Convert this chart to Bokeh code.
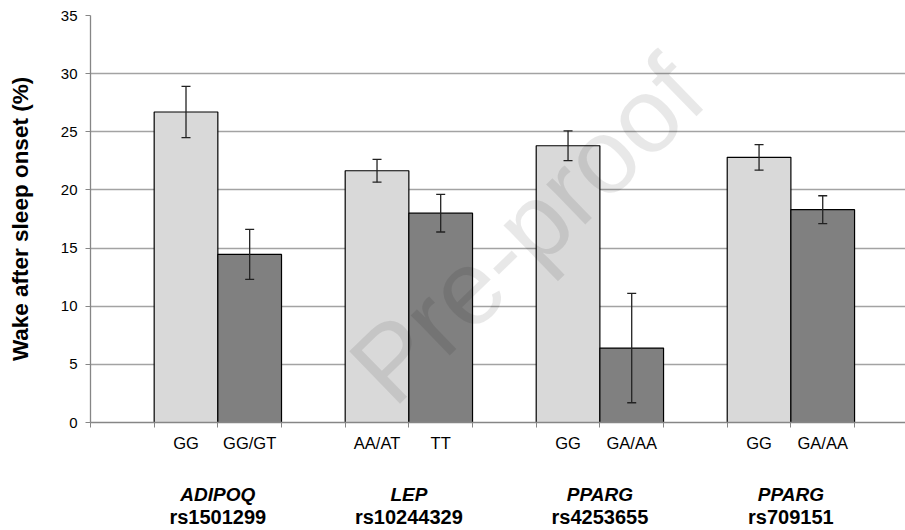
from bokeh.plotting import figure
from bokeh.models import (Range1d, FixedTicker, ColumnDataSource, Whisker, TeeHead,
                          LinearAxis, Label)
from bokeh.embed import file_html
from bokeh.resources import INLINE

# ---- data ----
genes = ["ADIPOQ", "LEP", "PPARG", "PPARG"]
snps = ["rs1501299", "rs10244329", "rs4253655", "rs709151"]
genotype_a = ["GG", "AA/AT", "GG", "GG"]
genotype_b = ["GG/GT", "TT", "GA/AA", "GA/AA"]
mean_a = [26.7, 21.65, 23.8, 22.8]
err_a = [2.2, 0.98, 1.28, 1.1]
mean_b = [14.45, 18.0, 6.4, 18.3]
err_b = [2.15, 1.62, 4.7, 1.2]
y_ticks = [0, 5, 10, 15, 20, 25, 30, 35]

# slot layout: one empty slot, then two bars, repeated
xa = [3 * i + 1.5 for i in range(len(genes))]
xb = [3 * i + 2.5 for i in range(len(genes))]
xg = [3 * i + 2.0 for i in range(len(genes))]

src_a = ColumnDataSource(dict(x=xa, top=mean_a, lo=[m - e for m, e in zip(mean_a, err_a)],
                              hi=[m + e for m, e in zip(mean_a, err_a)]))
src_b = ColumnDataSource(dict(x=xb, top=mean_b, lo=[m - e for m, e in zip(mean_b, err_b)],
                              hi=[m + e for m, e in zip(mean_b, err_b)]))

FONT = "Liberation Sans"

p = figure(width=905, height=530, output_backend="svg", toolbar_location=None,
           x_range=Range1d(0, 12.8), y_range=Range1d(0, 35),
           min_border_left=90, min_border_right=0, min_border_top=15, min_border_bottom=107)
p.outline_line_color = None

p.xgrid.grid_line_color = None
p.ygrid.grid_line_color = "#a3a3a3"
p.ygrid.grid_line_width = 1.4
p.ygrid.ticker = FixedTicker(ticks=y_ticks)

p.vbar(x="x", top="top", bottom=0, width=1.0, source=src_a,
       fill_color="#d9d9d9", line_color="#000000", line_width=1.2)
p.vbar(x="x", top="top", bottom=0, width=1.0, source=src_b,
       fill_color="#808080", line_color="#000000", line_width=1.2)

for s in (src_a, src_b):
    w = Whisker(base="x", upper="hi", lower="lo", source=s, line_color="#222222", line_width=1.3,
                level="overlay",
                upper_head=TeeHead(size=9, line_color="#222222", line_width=1.3),
                lower_head=TeeHead(size=9, line_color="#222222", line_width=1.3))
    p.add_layout(w)

# y axis
p.yaxis.ticker = FixedTicker(ticks=y_ticks)
p.yaxis.axis_line_color = "#868686"
p.yaxis.axis_line_width = 1.3
p.yaxis.major_tick_line_color = "#868686"
p.yaxis.major_tick_out = 5
p.yaxis.major_tick_in = 0
p.yaxis.minor_tick_line_color = None
p.yaxis.major_label_text_font = FONT
p.yaxis.major_label_text_font_size = "15px"
p.yaxis.major_label_text_color = "#000000"
p.yaxis.major_label_standoff = 8
p.yaxis.axis_label = "Wake after sleep onset (%)"
p.yaxis.axis_label_text_font = FONT
p.yaxis.axis_label_text_font_size = "22.5px"
p.yaxis.axis_label_text_font_style = "bold"
p.yaxis.axis_label_text_color = "#000000"
p.yaxis.axis_label_standoff = 25

# x axis: tick marks at slot boundaries only
p.xaxis.ticker = FixedTicker(ticks=list(range(14)))
p.xaxis.major_label_overrides = {i: "" for i in range(14)}
p.xaxis.major_label_text_font_size = "1px"
p.xaxis.major_label_standoff = 0
p.xaxis.axis_line_color = "#868686"
p.xaxis.axis_line_width = 1.3
p.xaxis.major_tick_line_color = "#868686"
p.xaxis.major_tick_out = 5
p.xaxis.major_tick_in = 0
p.xaxis.minor_tick_line_color = None


def label_axis(ticks, labels, size, style, standoff):
    ax = LinearAxis(ticker=FixedTicker(ticks=ticks),
                    major_label_overrides={t: l for t, l in zip(ticks, labels)})
    ax.axis_line_color = None
    ax.major_tick_line_color = None
    ax.minor_tick_line_color = None
    ax.major_tick_out = 0
    ax.major_tick_in = 0
    ax.major_label_standoff = standoff
    ax.major_label_text_font = FONT
    ax.major_label_text_font_size = size
    ax.major_label_text_font_style = style
    ax.major_label_text_color = "#000000"
    p.add_layout(ax, "below")
    return ax


label_axis(xa + xb, genotype_a + genotype_b, "16.5px", "normal", 6)
label_axis(xg, genes, "19px", "bold italic", 29)
label_axis(xg, snps, "20px", "bold", -2)

# watermark (kept inside the plot frame)
p.add_layout(Label(x=6.85, y=16.6, text="Pre-proof", angle=0.77, text_align="center",
                   text_baseline="middle", text_font=FONT, text_font_size="106px",
                   text_color="#000000", text_alpha=0.09))

open("out.html", "w").write(file_html(p, INLINE))
